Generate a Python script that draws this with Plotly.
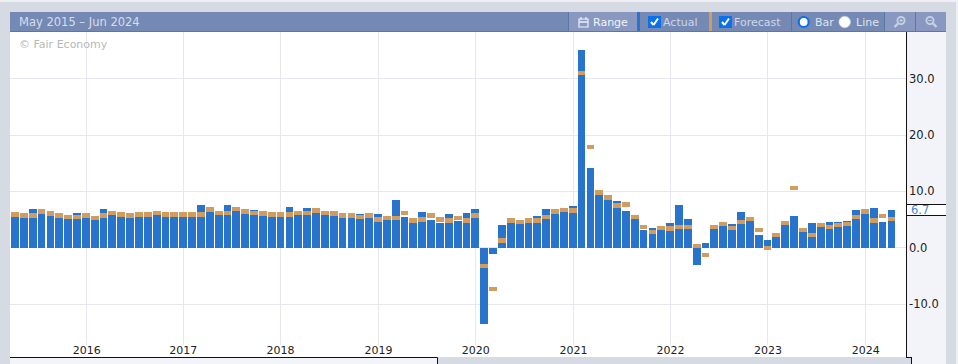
import plotly.graph_objects as go

# Values, one entry per bar (left to right)
actual = [5.7, 6.2, 6.9, 6.2, 5.8, 5.5, 5.3, 6.2, 5.5, 5.1,
          6.9, 5.9, 5.7, 6.2, 5.7, 6.4, 5.9, 5.7, 5.7, 5.7,
          6.4, 7.65, 6.4, 5.9, 7.65, 6.6, 6.1, 6.75, 5.8, 5.6,
          5.7, 7.3, 5.9, 7.1, 6.2, 5.9, 5.7, 6.2, 5.4, 6.05,
          5.4, 5.9, 5.05, 8.55, 5.5, 4.8, 6.4, 5.0, 4.45, 5.9,
          4.8, 6.2, 6.9, -13.55, -1.07, 4.1, 4.45, 4.3, 4.45, 5.7,
          6.9, 6.75, 6.4, 7.45, 35.1, 14.2, 9.4, 8.65, 8.35, 6.6,
          5.15, 3.15, 3.5, 3.1, 4.4, 7.6, 5.1, -3.1, 0.8, 3.3,
          3.9, 4.2, 6.35, 4.75, 2.25, 1.35, 1.9, 4.05, 5.65, 2.8,
          4.4, 3.7, 4.55, 4.55, 4.75, 6.7, 6.9, 7.05, 4.55, 6.7]
forecast = [5.9, 5.7, 5.7, 6.4, 6.1, 5.7, 5.5, 5.5, 5.7, 5.3,
            5.7, 6.2, 5.9, 5.7, 5.9, 5.9, 6.2, 5.9, 5.9, 5.9,
            5.9, 5.9, 6.8, 6.2, 6.2, 6.9, 6.4, 6.2, 6.05, 5.9,
            5.9, 5.9, 6.2, 6.2, 6.6, 6.2, 6.05, 5.7, 5.7, 5.5,
            5.7, 5.0, 5.3, 5.3, 6.2, 4.8, 5.0, 5.7, 5.0, 4.8,
            5.3, 4.8, 5.7, -3.2, -7.3, 1.25, 4.8, 4.6, 4.8, 4.8,
            5.5, 6.4, 6.7, 6.6, 31.0, 17.9, 9.8, 8.95, 7.5, 7.65,
            5.5, 3.7, 2.8, 3.55, 3.4, 3.7, 3.7, 0.3, -1.3, 3.7,
            4.2, 3.55, 4.55, 5.1, 3.15, -0.1, 2.25, 4.4, 10.6, 3.15,
            2.25, 4.05, 3.7, 4.05, 4.2, 5.45, 6.4, 4.85, 5.65, 5.15]
year_labels = ["2016", "2017", "2018", "2019", "2020", "2021", "2022", "2023", "2024"]
year_positions = [8.1, 19.0, 30.0, 41.05, 52.05, 63.1, 74.05, 85.05, 96.1]
value_ticks = [-10, 0, 10, 20, 30]
value_tick_labels = ["-10.0", "0.0", "10.0", "20.0", "30.0"]
last_value_label = "6.7"
range_label = "May 2015 – Jun 2024"

W, H = 958, 364
L, R, T, B = 10, 906, 32, 345
BLUE, ORANGE = "#2874cd", "#d29c5e"
GRAY, PANEL, HEAD, HEAD2, HEADLINE = "#d5dae3", "#f3f4f9", "#7589b5", "#8898c0", "#5a76ab"
GRID = "#e7e7ef"
BLACK = "#111111"


def px(x):
    return (x - L) / (R - L)


def py(y):
    return (B - y) / (B - T)


shapes, notes = [], []


def rect(x0, y0, x1, y1, fill, line=None, layer="below", w=1):
    shapes.append(dict(type="rect", xref="paper", yref="paper", x0=px(x0), x1=px(x1), y0=py(y0), y1=py(y1),
                       fillcolor=fill, line=dict(color=line or fill, width=w if line else 0), layer=layer))


def seg(x0, y0, x1, y1, color=BLACK, w=1, layer="above"):
    shapes.append(dict(type="line", xref="paper", yref="paper", x0=px(x0), x1=px(x1), y0=py(y0), y1=py(y1),
                       line=dict(color=color, width=w), layer=layer))


def circ(cx, cy, r, fill, line=None, w=1):
    shapes.append(dict(type="circle", xref="paper", yref="paper", x0=px(cx - r), x1=px(cx + r), y0=py(cy - r),
                       y1=py(cy + r), fillcolor=fill, line=dict(color=line or fill, width=w), layer="above"))


def label(x, y, text, color, size=11.5, anchor="left"):
    notes.append(dict(xref="paper", yref="paper", x=px(x - 2), y=py(y), text=text, showarrow=False, xanchor=anchor,
                      yanchor="middle", font=dict(family="DejaVu Sans", size=size, color=color)))


# page chrome
rect(0, 0, W, 2, "#eef0f4")
rect(956, 0, W, H, "#eef0f4")
rect(L, T, R, 357, "white")
rect(R, 32, 946, H, PANEL)
rect(R, 357, 912, H, GRAY)
rect(L, 357, 437, H, PANEL)
seg(L, 357.5, 437.5, 357.5)
seg(437.5, 357.5, 437.5, H)
seg(906.5, 32, 906.5, 357.5)
seg(906, 357.5, 912, 357.5)
seg(911.5, 357.5, 911.5, H)

# last-value tag
rect(906, 204, 946, 216, "white")
seg(906, 204.5, 946, 204.5)
seg(906, 215.5, 946, 215.5)
label(911, 210, last_value_label, "#3f87d8", 11.5)

# header bar
rect(L, 12, 946, 31, HEAD)
seg(L, 31.5, 946, 31.5, HEADLINE, 1)
rect(569, 12, 637, 31, HEAD2)
rect(885, 12, 946, 31, HEAD2)
for xs in (568.5, 791.5, 884.5, 915.5):
    seg(xs, 12, xs, 31, HEADLINE, 1)
rect(637, 12, 640, 31, BLUE)
rect(709, 12, 712, 31, ORANGE)
label(19, 22, range_label, "#d7deec", 11.5)
label(593, 22, "Range", "#f2f4fa", 11)
label(663, 22, "Actual", "#cfd7e8", 11)
label(734, 22, "Forecast", "#cfd7e8", 11)
label(815, 22, "Bar", "#dfe4f0", 11)
label(856, 22, "Line", "#dfe4f0", 11)
label(19, 45, "© Fair Economy", "#b8b8b8", 11)

# calendar icon
rect(579, 19, 588, 27, "rgba(0,0,0,0)", "#eef1f8", "above", 1.2)
seg(579, 22, 588, 22, "#eef1f8", 1.5)
seg(581, 17, 581, 20, "#eef1f8", 1.2)
seg(586, 17, 586, 20, "#eef1f8", 1.2)

# check boxes
for x0 in (648, 719):
    rect(x0, 16, x0 + 13, 28, "#0b70ea", None, "above")
    seg(x0 + 3, 22, x0 + 5.5, 25, "white", 2)
    seg(x0 + 5.5, 25, x0 + 10, 18.5, "white", 2)

# radio buttons
circ(803.7, 22, 5, "white", "#0b70ea", 2.2)
circ(844.7, 22, 5.8, "white", "#c9cfdd", 0.6)

# magnifiers
circ(901, 20.5, 3.6, "rgba(0,0,0,0)", "#c8d0e3", 1.8)
seg(898, 23.5, 894.5, 27, "#c8d0e3", 2.4)
seg(899.3, 20.5, 902.7, 20.5, "#c8d0e3", 1)
seg(901, 18.8, 901, 22.2, "#c8d0e3", 1)
circ(930, 20.5, 3.6, "rgba(0,0,0,0)", "#c8d0e3", 1.8)
seg(933, 23.5, 936.5, 27, "#c8d0e3", 2.4)
seg(928.3, 20.5, 931.7, 20.5, "#c8d0e3", 1)

index = list(range(len(actual)))
MARK = 0.78
fig = go.Figure()
fig.add_bar(x=index, y=actual, width=0.88, marker=dict(color=BLUE, line=dict(width=0)), name="Actual")
fig.add_bar(x=index, y=[MARK] * len(forecast), base=[f - MARK / 2 for f in forecast], width=0.88,
            marker=dict(color=ORANGE, line=dict(width=0)), name="Forecast")

pitch = 8.853
zero_y, unit = 247.7, 5.63
fig.update_layout(
    width=W, height=H, barmode="overlay", showlegend=False, bargap=0,
    margin=dict(l=L, r=W - R, t=T, b=H - B, autoexpand=False),
    paper_bgcolor=GRAY, plot_bgcolor="rgba(0,0,0,0)",
    shapes=shapes, annotations=notes,
    xaxis=dict(range=[(L - 15) / pitch, (R - 15) / pitch], tickmode="array", tickvals=year_positions,
               ticktext=year_labels, showgrid=True, gridcolor=GRID, gridwidth=1, zeroline=False, ticks="",
               showline=False, tickangle=0, ticklabelstandoff=-3,
               tickfont=dict(family="DejaVu Sans", size=11, color="#222222")),
    yaxis=dict(range=[(zero_y - B) / unit, (zero_y - T) / unit], side="right", tickmode="array",
               tickvals=value_ticks, ticktext=value_tick_labels, showgrid=True, gridcolor=GRID, gridwidth=1,
               zeroline=False, ticks="", showline=False, ticklabelstandoff=2,
               tickfont=dict(family="DejaVu Sans", size=11.5, color="#222222")),
    hovermode=False,
)
fig.write_html("out.html", config=dict(displayModeBar=False), post_script="document.body.style.margin='0';")
